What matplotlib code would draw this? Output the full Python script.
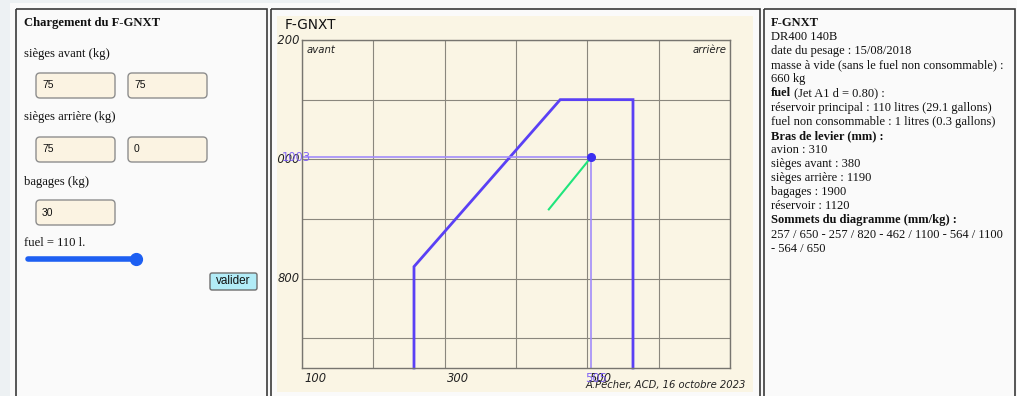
import numpy as np
import matplotlib.pyplot as plt
import matplotlib as mpl
from matplotlib.patches import Rectangle, FancyBboxPatch
from matplotlib.transforms import offset_copy

# envelope of the DR400 (cg mm / mass kg)
env_cg = [257, 257, 462, 564, 564]
env_mass = [650, 820, 1100, 1100, 650]
# loaded and zero fuel points
cg_loaded, mass_loaded = 505, 1003
cg_nofuel, mass_nofuel = 446, 916
x_ticks = [100, 200, 300, 400, 500, 600, 700]
y_ticks = [700, 800, 900, 1000, 1100, 1200]
x_labels = [100, 300, 500]
y_labels = [800, 1000, 1200]

# form values
form_labels = ['sièges avant (kg)', 'sièges arrière (kg)', 'bagages (kg)']
form_values = [['75', '75'], ['75', '0'], ['30']]
fuel_litres = 110

# (bold part, regular part)
info_lines = [
    ('F-GNXT', ''),
    ('', 'DR400 140B'),
    ('', 'date du pesage : 15/08/2018'),
    ('', 'masse à vide (sans le fuel non consommable) :'),
    ('', '660 kg'),
    ('fuel', ' (Jet A1 d = 0.80) :'),
    ('', 'réservoir principal : 110 litres (29.1 gallons)'),
    ('', 'fuel non consommable : 1 litres (0.3 gallons)'),
    ('Bras de levier (mm) :', ''),
    ('', 'avion : 310'),
    ('', 'sièges avant : 380'),
    ('', 'sièges arrière : 1190'),
    ('', 'bagages : 1900'),
    ('', 'réservoir : 1120'),
    ('Sommets du diagramme (mm/kg) :', ''),
    ('', '257 / 650 - 257 / 820 - 462 / 1100 - 564 / 1100'),
    ('', '- 564 / 650'),
]

W, H = 1017, 396
fig = plt.figure(figsize=(W / 100, H / 100), dpi=100)
fig.patch.set_facecolor('#fafafa')

# page layer in pixel coords
ui = fig.add_axes([0, 0, 1, 1], zorder=0)
ui.set_xlim(0, W)
ui.set_ylim(H, 0)
ui.axis('off')
ui.add_patch(Rectangle((0, 0), 10, H, color='#edf1f3', lw=0))
ui.add_patch(Rectangle((0, 0), 340, 3, color='#edf1f3', lw=0))
for x0, x1 in [(16, 267), (271, 760), (764, 1015)]:
    ui.add_patch(Rectangle((x0, 9), x1 - x0, 400, fill=False, ec='#3a3a3a', lw=1.2))

serif = 'Liberation Serif'
ui.text(24, 23, 'Chargement du F-GNXT', family=serif, weight='bold', fontsize=9.1,
        va='center', color='#111')
rows_y = [54, 117, 182]
box_y = [73, 137, 200]
for lab, ly, by, vals in zip(form_labels, rows_y, box_y, form_values):
    ui.text(24, ly, lab, family=serif, fontsize=9.1, va='center', color='#111')
    for k, v in enumerate(vals):
        bx = 36 + k * 92
        ui.add_patch(FancyBboxPatch((bx, by), 79, 25, boxstyle='round,pad=0,rounding_size=4',
                                    fc='#fbf3e2', ec='#8e8e8e', lw=1.0))
        ui.text(bx + 6, by + 12.5, v, family='Liberation Sans', fontsize=7.5, va='center',
                color='#111')
ui.text(24, 243, f'fuel = {fuel_litres} l.', family=serif, fontsize=9.1, va='center',
        color='#111')
ui.plot([28, 136], [259, 259], color='#1d5ff2', lw=4, solid_capstyle='round')
ui.plot(136, 259, 'o', color='#1d5ff2', ms=8.5)
ui.add_patch(FancyBboxPatch((210, 273), 47, 17, boxstyle='round,pad=0,rounding_size=2',
                            fc='#b2ecf7', ec='#6e6e6e', lw=1.0))
ui.text(233.5, 281.5, 'valider', family='Liberation Sans', fontsize=8.5, ha='center',
        va='center', color='#111')

for i, (bold, reg) in enumerate(info_lines):
    y = 26 + i * 14.1
    if bold:
        t = ui.text(771, y, bold, family=serif, weight='bold', fontsize=9.0, va='baseline',
                    color='#111')
        if reg:
            ui.annotate(reg, xy=(1, 0), xycoords=t, ha='left', va='bottom', family=serif,
                        fontsize=9.0, color='#111')
    else:
        ui.text(771, y, reg, family=serif, fontsize=9.0, va='baseline', color='#111')

# canvas
cv = fig.add_axes([277 / W, 1 - 392 / H, 476 / W, 376 / H], zorder=1)
cv.set_facecolor('#faf5e4')
cv.set_xticks([])
cv.set_yticks([])
for s in cv.spines.values():
    s.set_visible(False)

# chart
ax = fig.add_axes([302 / W, 1 - 368 / H, 428 / W, 328 / H], zorder=2)
ax.patch.set_alpha(0)
ax.set_xlim(100, 700)
ax.set_ylim(650, 1200)
ax.set_xticks(x_ticks)
ax.set_yticks(y_ticks)
ax.tick_params(length=0, labelbottom=False, labelleft=False)
ax.grid(True, color='#8a877d', lw=0.8)
for s in ax.spines.values():
    s.set_color('#77756f')
    s.set_linewidth(1.0)

ax.plot(env_cg, env_mass, color='#5a40f5', lw=2.0, solid_joinstyle='miter', clip_on=False)
ax.plot([100, cg_loaded], [mass_loaded, mass_loaded], color='#a28cfa', lw=1.2)
ax.plot([cg_loaded, cg_loaded], [mass_loaded, 650], color='#a28cfa', lw=1.2)
ax.plot([cg_nofuel, cg_loaded], [mass_nofuel, mass_loaded], color='#1fe57c', lw=1.5)
ax.plot(cg_loaded, mass_loaded, 'o', color='#3b2ff0', ms=5.5)

tick_font = dict(family='DejaVu Sans', style='italic', fontsize=8.3, color='#222')
for xv in x_labels:
    ax.text(xv, 650, str(xv), transform=offset_copy(ax.transData, fig, x=2, y=-4, units='dots'),
            ha='left', va='top', **tick_font)
for yv in y_labels:
    t = ax.text(100, yv, str(yv), transform=offset_copy(ax.transData, fig, x=-2, y=0, units='dots'),
                ha='right', va='center', clip_on=True, **tick_font)
    t.set_clip_box(cv.bbox)
ax.text(cg_loaded, 650, str(cg_loaded), transform=offset_copy(ax.transData, fig, x=-6, y=-4, units='dots'),
        ha='left', va='top', family='DejaVu Sans', fontsize=8.3, color='#7a5cf7', alpha=0.9)
ax.text(100, mass_loaded, str(mass_loaded), transform=offset_copy(ax.transData, fig, x=-20, y=0, units='dots'),
        ha='left', va='center', family='DejaVu Sans', fontsize=8.3, color='#7a5cf7', alpha=0.9)

ax.text(0.01, 0.985, 'avant', transform=ax.transAxes, ha='left', va='top', family='DejaVu Sans',
        style='italic', fontsize=7.3, color='#222')
ax.text(0.992, 0.985, 'arrière', transform=ax.transAxes, ha='right', va='top', family='DejaVu Sans',
        style='italic', fontsize=7.3, color='#222')
cv.text(0.017, (392 - 25) / 376, 'F-GNXT', transform=cv.transAxes, ha='left', va='center',
        family='DejaVu Sans', fontsize=9.8, color='#111')
cv.text(0.985, 0.005, 'A.Pêcher, ACD, 16 octobre 2023', transform=cv.transAxes, ha='right',
        va='bottom', family='DejaVu Sans', style='italic', fontsize=7.2, color='#222')

fig.savefig('out.png', dpi=100, facecolor=fig.get_facecolor())
